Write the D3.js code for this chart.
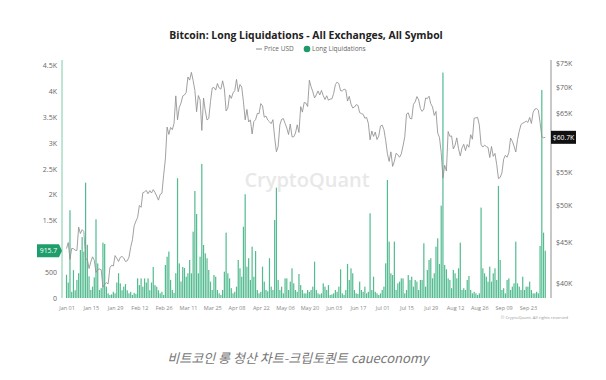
<!DOCTYPE html>
<html>
<head>
<meta charset="utf-8">
<script src="https://cdn.jsdelivr.net/npm/d3@7"></script>
<style>
body { margin: 0; background: #fff; }
svg { font-family: "Open Sans", "Noto Sans", sans-serif; }
</style>
</head>
<body>
<script>
// daily series, starting 2024-01-01
var startDate = "2024-01-01";

// long liquidations (left axis)
var liquidations = [
  // Jan
  450,300,1700,120,540,150,350,480,930,1180,900,2234,1030,420,155,220,400,1525,670,155,190,1072,1046,220,90,58,70,120,90,300,480,
  // Feb
  284,150,220,270,150,90,120,60,100,80,380,250,380,220,380,300,380,150,300,600,250,220,150,90,120,60,640,800,900,
  // Mar
  350,155,100,480,2320,670,320,600,580,413,478,736,478,1285,2073,1628,478,800,2597,1027,866,770,543,317,155,445,413,155,90,58,155,
  // Apr
  510,1266,478,380,190,90,120,220,736,575,413,1380,2009,607,770,349,995,413,910,155,90,120,607,317,155,130,770,220,155,1511,
  // May
  2138,349,155,220,90,380,380,155,317,575,284,155,120,465,250,155,90,90,155,120,155,220,704,155,90,70,90,284,220,155,250,
  // Jun
  58,70,90,155,120,220,556,90,60,155,660,349,575,478,155,90,80,317,155,120,220,90,120,1641,155,413,120,90,58,90,
  // Jul
  155,220,672,2287,1092,478,445,1092,155,284,317,380,380,90,155,445,349,413,220,349,317,155,349,349,1060,220,543,736,770,381,478,
  // Aug
  995,1156,659,1789,4367,640,556,381,349,190,543,478,381,575,1072,155,190,155,349,426,155,90,120,90,58,90,1751,575,478,413,317,
  // Sep
  607,317,478,575,349,2171,736,155,190,90,349,381,155,220,284,1092,284,220,155,413,155,220,220,317,155,90,90,120,90,1008,
  // Oct
  4031,1266,915.7
];

// BTC price USD (right axis)
var price = [
  // Jan
  44180,44950,42850,44190,44160,43970,43930,46970,46120,46630,46380,42850,42840,41730,42510,43150,42740,41260,41620,41670,41580,39570,39880,40080,39940,41820,42120,42030,43300,42940,42580,
  // Feb
  43080,43190,43000,42580,42660,43090,44340,45300,47150,47770,48290,49960,49700,51810,51940,52160,51660,52120,51780,52280,51860,51320,50730,51570,51730,54480,57090,62500,61200,
  // Mar
  62440,62030,63170,68330,63800,66110,66930,68300,68500,69020,72120,71480,73080,71400,69400,65300,68390,67550,61910,67910,65490,63780,64060,67210,69880,69990,69460,70780,69890,69650,71330,
  // Apr
  69700,65450,65980,68510,67840,68900,69360,71620,69140,70590,70060,67190,63820,65740,63420,63810,61280,63510,63840,64990,64940,66840,66410,64290,64500,63770,63460,63120,63840,60640,
  // May
  58250,59120,62890,63890,64030,63160,62330,61190,63050,60790,60790,61450,62900,61550,66270,65230,67050,66940,66280,71450,70140,69120,67930,68530,69290,68510,69400,68370,67630,68350,67490,
  // Jun
  67700,67750,68800,70560,71080,70760,69340,69310,69650,69500,67320,68240,66750,66010,66190,66640,66490,65140,64960,64830,64100,64250,63180,60280,61800,60860,61610,60320,60890,62680,
  // Jul
  62850,62030,60170,57900,56660,58230,55860,56700,58000,57740,57340,57900,59230,60790,64870,65100,64080,63970,66700,67150,68190,67580,65930,65370,65800,67910,67810,68260,66820,66200,64620,
  // Aug
  65360,61420,60690,58120,54020,56040,55130,61710,60880,60940,58710,59350,60610,58740,57560,58880,59500,58440,59460,59010,61160,60380,64100,64180,64260,62830,59420,59030,59360,59120,58970,
  // Sep
  57300,59130,57490,57970,56160,53950,54140,54840,57020,57650,57340,58130,60570,60010,59180,58210,60310,61760,62950,63200,63350,63580,63340,64260,63150,65180,65800,65890,65600,63330,
  // Oct
  60800,60630,60700
];

var xTickLabels = ["Jan 01","Jan 15","Jan 29","Feb 12","Feb 26","Mar 11","Mar 25","Apr 08","Apr 22","May 06",
                   "May 20","Jun 03","Jun 17","Jul 01","Jul 15","Jul 29","Aug 12","Aug 26","Sep 09","Sep 23"];
var leftTicks = [0,500,1000,1500,2000,2500,3000,3500,4000,4500];
var rightTicks = [40000,45000,50000,55000,60000,65000,70000,75000];

var W = 606, H = 380;
var plotL = 62, plotR = 551, plotT = 60, plotB = 298;
var DAY = 864e5;

var parseDay = d3.timeParse("%Y-%m-%d");
var start = parseDay(startDate);
var n = Math.min(liquidations.length, price.length);
var data = [];
for (var i = 0; i < n; i++) {
  data.push({date: new Date(start.getTime() + i * DAY), liq: liquidations[i], price: price[i]});
}
var last = data[n - 1];

var x = d3.scaleTime()
  .domain([new Date(start.getTime() - 2.6 * DAY), new Date(start.getTime() + 279.3 * DAY)])
  .range([plotL, plotR]);
var yL = d3.scaleLinear().domain([0, 4610]).range([plotB, plotT]);
var yR = d3.scaleLog().domain([38360, 75700]).range([plotB, plotT]);

var svg = d3.select("body").append("svg")
  .attr("width", W)
  .attr("height", H);

// title + legend
svg.append("text")
  .attr("x", 306).attr("y", 39)
  .attr("text-anchor", "middle")
  .attr("font-size", 10.4)
  .attr("font-weight", 700)
  .attr("fill", "#222")
  .text("Bitcoin: Long Liquidations - All Exchanges, All Symbol");

var lg = svg.append("g").attr("font-size", 6.5).attr("fill", "#666");
lg.append("line").attr("x1", 256).attr("x2", 262).attr("y1", 49).attr("y2", 49)
  .attr("stroke", "#888").attr("stroke-width", 1);
lg.append("text").attr("x", 264).attr("y", 51.3).text("Price USD");
lg.append("circle").attr("cx", 307).attr("cy", 49).attr("r", 3.3).attr("fill", "#1c9a6a");
lg.append("text").attr("x", 312).attr("y", 51.3).text("Long Liquidations");

// watermark
svg.append("text")
  .attr("x", 307).attr("y", 187)
  .attr("text-anchor", "middle")
  .attr("font-size", 20)
  .attr("font-weight", 600)
  .attr("fill", "#e8e8e8")
  .text("CryptoQuant");

// bars
svg.append("g").selectAll("rect")
  .data(data)
  .enter().append("rect")
  .attr("x", function(d) { return x(d.date) - 0.6; })
  .attr("width", 1.2)
  .attr("y", function(d) { return yL(d.liq); })
  .attr("height", function(d) { return plotB - yL(d.liq); })
  .attr("fill", "#52bb8f");

// price line
var valueline = d3.line()
  .x(function(d) { return x(d.date); })
  .y(function(d) { return yR(d.price); });

svg.append("path")
  .datum(data)
  .attr("fill", "none")
  .attr("stroke", "#909090")
  .attr("stroke-width", 0.85)
  .attr("d", valueline);

// axes (tick labels hidden behind the last-value tags are dropped)
var fmtK = function(v) { return v === 0 ? "0" : v < 1000 ? String(v) : (v / 1000) + "K"; };
var gL = svg.append("g")
  .attr("transform", "translate(" + plotL + ",0)")
  .call(d3.axisLeft(yL).tickValues(leftTicks).tickSize(0).tickPadding(5).tickFormat(fmtK));
gL.select(".domain").remove();
gL.selectAll(".tick").filter(function(v) { return Math.abs(yL(v) - yL(last.liq)) < 9; }).remove();
gL.selectAll("text").attr("font-family", "Open Sans").attr("font-size", 7).attr("fill", "#666");
svg.append("line").attr("x1", plotL).attr("x2", plotL).attr("y1", plotT).attr("y2", plotB)
  .attr("stroke", "#7fcba8").attr("stroke-width", 1);

var gR = svg.append("g")
  .attr("transform", "translate(" + plotR + ",0)")
  .call(d3.axisRight(yR).tickValues(rightTicks).tickSize(0).tickPadding(5)
    .tickFormat(function(v) { return "$" + (v / 1000) + "K"; }));
gR.select(".domain").remove();
gR.selectAll(".tick").filter(function(v) { return Math.abs(yR(v) - yR(last.price)) < 9; }).remove();
gR.selectAll("text").attr("font-family", "Open Sans").attr("font-size", 7).attr("fill", "#666");
svg.append("line").attr("x1", plotR).attr("x2", plotR).attr("y1", plotT).attr("y2", plotB)
  .attr("stroke", "#aaa").attr("stroke-width", 1.3);

var parseTick = d3.timeParse("%b %d %Y");
var gX = svg.append("g")
  .attr("transform", "translate(0," + plotB + ")")
  .call(d3.axisBottom(x)
    .tickValues(xTickLabels.map(function(s) { return parseTick(s + " 2024"); }))
    .tickSize(0).tickPadding(8)
    .tickFormat(d3.timeFormat("%b %d")));
gX.select(".domain").remove();
gX.selectAll("text").attr("font-family", "Open Sans").attr("font-size", 5.5).attr("fill", "#888");

// last value tags
var tagL = svg.append("g").attr("transform", "translate(0," + yL(last.liq) + ")");
tagL.append("path").attr("d", "M37,-6.5H59L62,0L59,6.5H37Z").attr("fill", "#1f9d6b");
tagL.append("text").attr("x", 48.5).attr("y", 2.4).attr("text-anchor", "middle")
  .attr("font-size", 6.8).attr("fill", "#fff").text(d3.format(".1f")(last.liq));

var tagR = svg.append("g").attr("transform", "translate(0," + yR(last.price) + ")");
tagR.append("rect").attr("x", 551).attr("y", -6.5).attr("width", 25).attr("height", 13).attr("fill", "#111");
tagR.append("text").attr("x", 563.5).attr("y", 2.4).attr("text-anchor", "middle")
  .attr("font-size", 6.8).attr("fill", "#fff").text("$" + (last.price / 1000).toFixed(1) + "K");

// copyright
svg.append("text")
  .attr("x", 568).attr("y", 319)
  .attr("text-anchor", "end")
  .attr("font-size", 4.2)
  .attr("fill", "#999")
  .text("© CryptoQuant. All rights reserved");

// caption
svg.append("text")
  .attr("x", 298).attr("y", 363)
  .attr("text-anchor", "middle")
  .attr("font-family", "'Noto Sans CJK KR', 'Noto Sans', sans-serif")
  .attr("font-size", 13)
  .attr("font-style", "italic")
  .attr("fill", "#777")
  .text("비트코인 롱 청산 차트-크립토퀀트 caueconomy");
</script>
</body>
</html>
